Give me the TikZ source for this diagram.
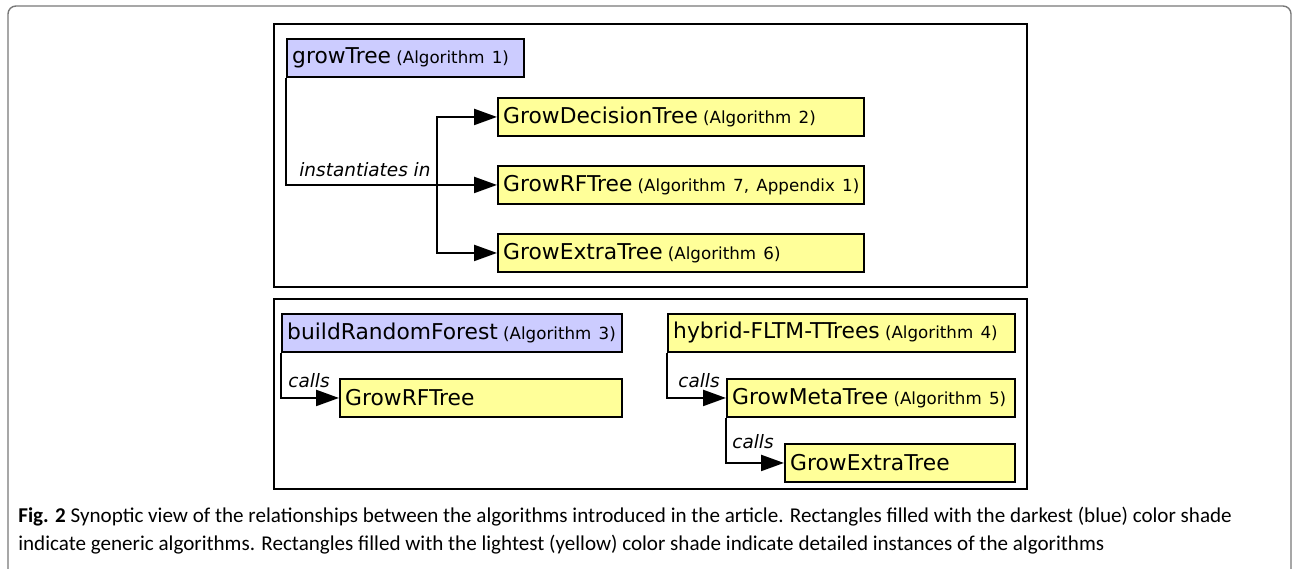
\documentclass[tikz,border=0pt]{standalone}
\usepackage{fontspec}
\usetikzlibrary{arrows.meta,calc}
\newfontfamily\diagfont{DejaVu Sans}
\newfontfamily\capfont{Carlito}
\definecolor{genblue}{RGB}{204,204,255}
\definecolor{detyellow}{RGB}{255,255,153}
\definecolor{framegray}{RGB}{120,120,120}
\tikzset{
  algo/.style={draw=black, line width=1.1pt, rectangle, anchor=north west,
    inner xsep=3pt, inner ysep=0pt, minimum height=0.76cm, align=left,
    font=\diagfont\fontsize{12.4}{14}\selectfont},
  generic/.style={algo, fill=genblue},
  detail/.style={algo, fill=detyellow},
  link/.style={line width=1.4pt, -{Triangle[length=13pt,width=9pt]}},
  relation/.style={anchor=south west, inner sep=0pt,
    font=\diagfont\itshape\fontsize{10.5}{12}\selectfont},
  panel/.style={line width=1.1pt},
}
\newcommand{\algref}[1]{{\fontsize{9.5}{11}\selectfont\hspace{3pt}(#1)}}
\begin{document}
\begin{tikzpicture}[x=0.02cm, y=-0.02cm]
\useasboundingbox (0,0) rectangle (1294,568);

% Drawing outer frame
\draw [framegray, line width=0.8pt, rounded corners=0.16cm] (8,580) -- (8,6) -- (1291,6) -- (1291,580);%

% Drawing panels
\draw [panel] (274,24) rectangle (1027,287);%
\draw [panel] (274,299) rectangle (1027,489);%

% Marking generic algorithm growTree and its instances
\node (growtree) [generic, text width=4.53cm] at (286,38) {growTree\algref{Algorithm 1}};%
\node (decision) [detail, text width=7.11cm] at (497,97) {GrowDecisionTree\algref{Algorithm 2}};%
\node (rftree) [detail, text width=7.11cm] at (497,165) {\mbox{GrowRFTree\algref{Algorithm 7, Appendix 1}}};%
\node (extratree) [detail, text width=7.11cm] at (497,233) {GrowExtraTree\algref{Algorithm 6}};%

% Drawing instantiation links
\coordinate (split) at ($(rftree.west)+(-60,0)$);%
\draw [link] (growtree.south west) |- (rftree.west);%
\draw [link] (split) |- (decision.west);%
\draw [link] (split) |- (extratree.west);%
\node (inst) [relation] at ($(growtree.south west |- rftree.west)+(13,-8)$) {instantiates in};%

% Marking buildRandomForest
\node (buildrf) [generic, text width=6.59cm] at (281,313) {buildRandomForest\algref{Algorithm 3}};%
\node (rfcall) [detail, text width=5.43cm] at (339,378) {GrowRFTree};%
\draw [link] (buildrf.south west) |- (rfcall.west);%
\node (callsa) [relation] at ($(buildrf.south west |- rfcall.west)+(7,-10)$) {calls};%

% Marking hybrid-FLTM-TTrees
\node (hybrid) [detail, text width=6.73cm] at (667,313) {hybrid-FLTM-TTrees\algref{Algorithm 4}};%
\node (metatree) [detail, text width=5.55cm] at (726,378) {GrowMetaTree\algref{Algorithm 5}};%
\node (extracall) [detail, text width=4.39cm] at (784,443) {GrowExtraTree};%
\draw [link] (hybrid.south west) |- (metatree.west);%
\draw [link] (metatree.south west) |- (extracall.west);%
\node (callsb) [relation] at ($(hybrid.south west |- metatree.west)+(11,-10)$) {calls};%
\node (callsc) [relation] at ($(metatree.south west |- extracall.west)+(6,-14)$) {calls};%

% Writing caption
\node (caption) [anchor=north west, inner sep=0pt, align=left, font=\capfont\fontsize{12}{15.9}\selectfont] at (18,507)
  {\textbf{Fig. 2} Synoptic view of the relationships between the algorithms introduced in the article. Rectangles filled with the darkest (blue) color shade\\
   indicate generic algorithms. Rectangles filled with the lightest (yellow) color shade indicate detailed instances of the algorithms};%
\end{tikzpicture}
\end{document}
